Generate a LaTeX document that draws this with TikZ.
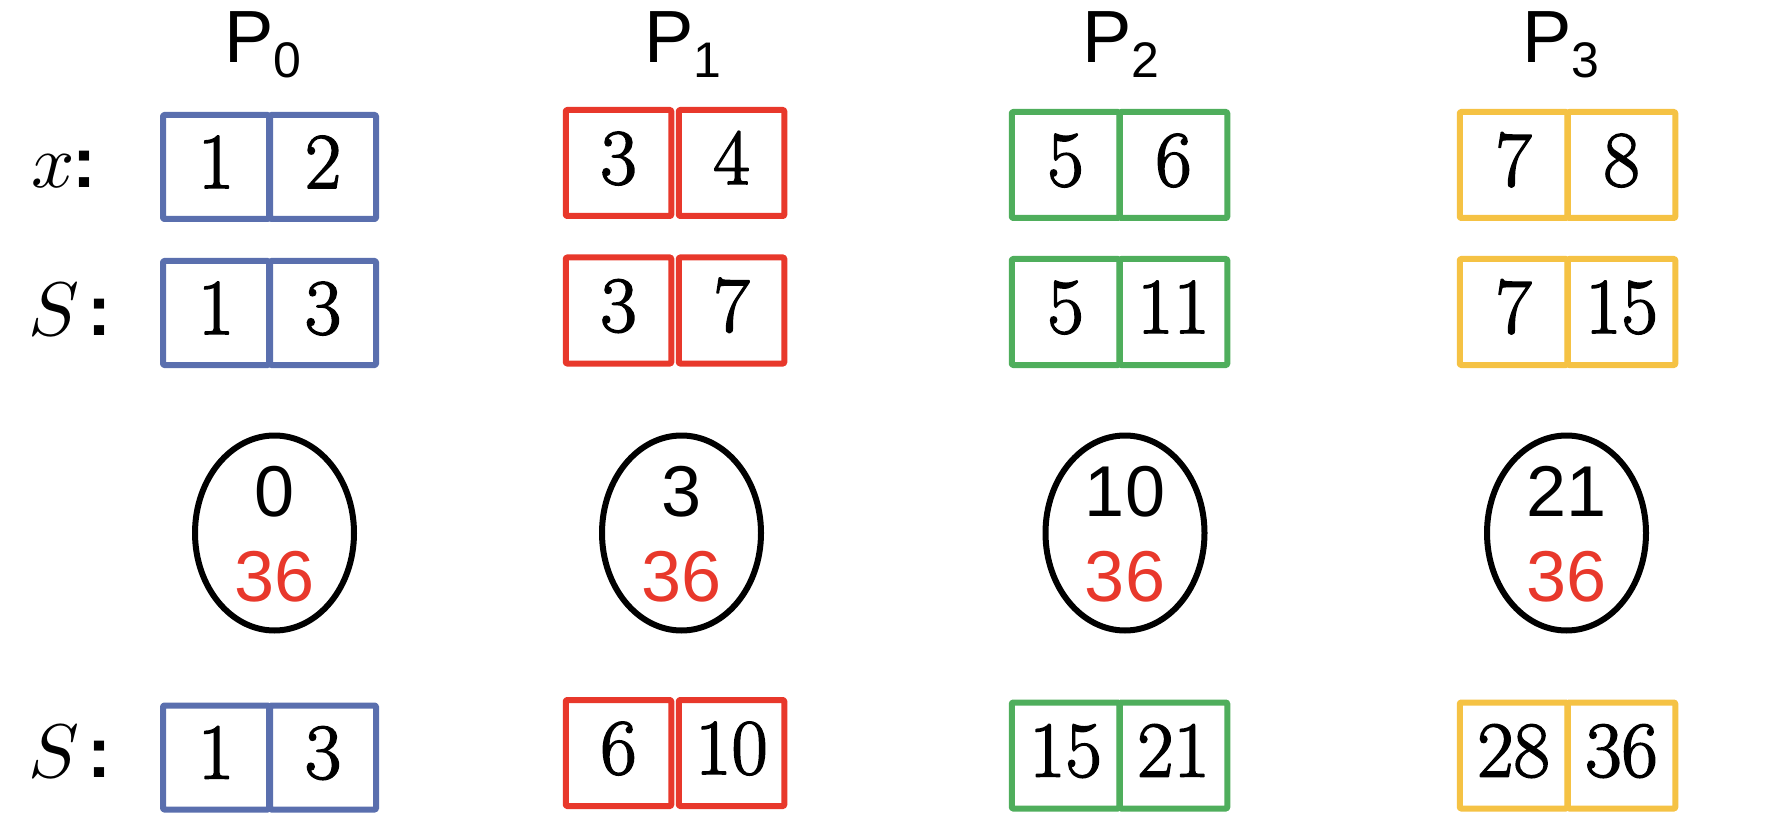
\documentclass[tikz,border=0pt]{standalone}
\usepackage{fontspec}
\usepackage{unicode-math}
\setmathfont{Latin Modern Math}
\newfontfamily\sansf{Liberation Sans}
\newfontfamily\numf{Latin Modern Roman}[FakeBold=2]
\newfontfamily\colonf{Liberation Sans}[BoldFont={Liberation Sans Bold}]
\usetikzlibrary{shapes.geometric}
\definecolor{cblue}{HTML}{5A6FAE}
\definecolor{cred}{HTML}{E8382B}
\definecolor{cgreen}{HTML}{4FAE5C}
\definecolor{cyellow}{HTML}{F5C244}
\tikzset{
  cellbox/.style={draw=#1, line width=6pt, line join=round, rounded corners=1pt,
    inner sep=0pt, text height=42pt, text depth=0pt,
    font=\numf\fontsize{79}{80}\selectfont},
  plabel/.style={anchor=base west, inner sep=0pt, font=\sansf\fontsize{74}{80}\selectfont},
  oval/.style={draw=black, line width=6pt, ellipse, inner sep=0pt,
    minimum width=159pt, minimum height=195pt},
  ovaltext/.style={anchor=base, inner sep=0pt, font=\sansf\fontsize{72}{80}\selectfont},
  rowlabel/.style={anchor=base west, inner sep=0pt, font=\fontsize{76}{80}\selectfont},
}
\newcommand{\pcolon}{{\colonf\bfseries\fontsize{72}{80}\selectfont :}}
\newcommand{\psub}[1]{P\raisebox{-15pt}{\fontsize{50}{50}\selectfont #1}}
\begin{document}
\begin{tikzpicture}[x=1pt,y=-1pt]
\useasboundingbox (0,0) rectangle (1772,834);

% column labels
\node[plabel] (p0) at (224.3,63) {\psub{0}};
\node[plabel] (p1) at (644.3,63) {\psub{1}};
\node[plabel] (p2) at (1082.3,63) {\psub{2}};
\node[plabel] (p3) at (1522.3,63) {\psub{3}};

% row labels
\node[rowlabel] (lx) at (0,188) {\rlap{\hspace*{31pt}$x$}\hspace*{72pt}\pcolon};
\node[rowlabel] (ls) at (0,335) {\rlap{\hspace*{28pt}$S$}\hspace*{87pt}\pcolon};
\node[rowlabel] (lt) at (0,777) {\rlap{\hspace*{28pt}$S$}\hspace*{87pt}\pcolon};

% P0 (blue)
\begin{scope}[every node/.style={cellbox=cblue, minimum width=106pt, minimum height=104pt}]
\node (b0x1) at (216,167) {1};   \node (b0x2) at (323,167) {2};
\node (b0s1) at (216,313) {1};   \node (b0s2) at (323,313) {3};
\node (b0t1) at (216,757.5) {1}; \node (b0t2) at (323,757.5) {3};
\end{scope}

% P1 (red)
\begin{scope}[every node/.style={cellbox=cred, minimum width=105.5pt, minimum height=106pt}]
\node (b1x1) at (618.5,163) {3};   \node (b1x2) at (731.5,163) {4};
\node (b1s1) at (618.5,310.5) {3}; \node (b1s2) at (731.5,310.5) {7};
\node (b1t1) at (618.5,753) {6};   \node (b1t2) at (731.5,753) {10};
\end{scope}

% P2 (green)
\begin{scope}[every node/.style={cellbox=cgreen, minimum width=107.5pt, minimum height=106pt}]
\node (b2x1) at (1065.5,165) {5};   \node (b2x2) at (1173.5,165) {6};
\node (b2s1) at (1065.5,312) {5};   \node (b2s2) at (1173.5,312) {11};
\node (b2t1) at (1065.5,755.5) {15}; \node (b2t2) at (1173.5,755.5) {21};
\end{scope}

% P3 (yellow)
\begin{scope}[every node/.style={cellbox=cyellow, minimum width=107.5pt, minimum height=106pt}]
\node (b3x1) at (1513.5,165) {7};   \node (b3x2) at (1621.5,165) {8};
\node (b3s1) at (1513.5,312) {7};   \node (b3s2) at (1621.5,312) {15};
\node (b3t1) at (1513.5,755.5) {28}; \node (b3t2) at (1621.5,755.5) {36};
\end{scope}

% ellipses
\node[oval] (e0) at (274.5,533) {};
\node[oval] (e1) at (681.5,533) {};
\node[oval] (e2) at (1125,533) {};
\node[oval] (e3) at (1566.5,533) {};
\node[ovaltext] (e0a) at (274.5,516) {0};
\node[ovaltext] (e1a) at (681.5,516) {3};
\node[ovaltext] (e2a) at (1125,516) {10};
\node[ovaltext] (e3a) at (1566.5,516) {21};
\node[ovaltext, text=cred] (e0b) at (274.5,601) {36};
\node[ovaltext, text=cred] (e1b) at (681.5,601) {36};
\node[ovaltext, text=cred] (e2b) at (1125,601) {36};
\node[ovaltext, text=cred] (e3b) at (1566.5,601) {36};
\end{tikzpicture}
\end{document}
